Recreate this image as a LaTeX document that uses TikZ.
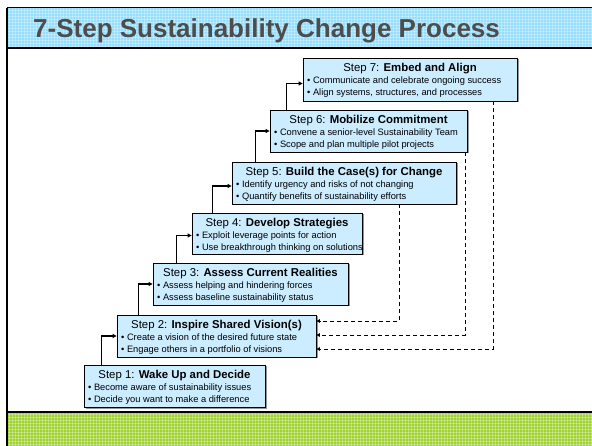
\documentclass[tikz,border=0pt]{standalone}
\usepackage{fontspec}
\setmainfont{Liberation Sans}
\usetikzlibrary{arrows.meta}
\definecolor{bannerc}{RGB}{150,222,252}
\definecolor{greenc}{RGB}{160,210,50}
\definecolor{boxc}{RGB}{204,236,255}
\definecolor{titlec}{RGB}{77,77,77}
\definecolor{shadowc}{RGB}{150,150,150}
\tikzset{
  boxst/.style={draw=black, line width=0.8pt, fill=boxc, inner sep=0pt},
  ttlst/.style={font=\fontsize{11.4}{13}\selectfont, inner sep=0pt, anchor=base},
  bulst/.style={font=\fontsize{9.3}{11}\selectfont, inner sep=0pt, anchor=base west},
  upline/.style={draw, line width=1.2pt, -{Triangle[length=4pt,width=4pt]}},
  backline/.style={draw, line width=0.9pt, dash pattern=on 4pt off 3pt, -{Triangle[length=3.5pt,width=3.5pt]}},
  gridln/.style={white, opacity=0.3, line width=0.5pt},
}
\newcommand\mkstep[9]{%
  \fill[shadowc] (#2+1.5,#3+1.5) rectangle (#4+1.5,#5+1.5);
  \node[boxst, minimum width={#4-#2}, minimum height={#5-#3}] (#1) at ({(#2+#4)/2},{(#3+#5)/2}) {};
  \node[ttlst] (#1t) at ({(#2+#4)/2},#3+13.5) {#6 \textbf{#7}};
  \node[bulst] (#1a) at (#2+4,#3+25.5) {\textbullet\ #8};
  \node[bulst] (#1b) at (#2+4,#3+37.5) {\textbullet\ #9};
}
\begin{document}
\begin{tikzpicture}[x=1pt,y=-1pt]
\useasboundingbox (0,0) rectangle (592,446);
\fill[white] (0,0) rectangle (592,446);
% banner
\fill[bannerc] (7,8) rectangle (592,48);
\foreach \i in {9,12,...,591} \draw[gridln] (\i,8) -- (\i,48);
\foreach \j in {10,13,...,47} \draw[gridln] (7,\j) -- (592,\j);
\draw[line width=1pt] (7,8) -- (592,8);
\draw[line width=1.2pt] (7,48) -- (592,48);
% green band
\fill[greenc] (7,412) rectangle (592,446);
\foreach \i in {9,12,...,591} \draw[gridln] (\i,412) -- (\i,446);
\foreach \j in {414,417,...,446} \draw[gridln] (7,\j) -- (592,\j);
\draw[line width=1.2pt] (7,412) -- (592,412);
% left edge
\draw[line width=2pt] (7,8) -- (7,446);
\node[anchor=base west, inner sep=0pt, font=\fontsize{26}{30}\selectfont\bfseries, text=titlec] (title) at (33,38) {7-Step Sustainability Change Process};
% steps
\mkstep{s7}{303}{58}{517}{101}{Step 7:}{Embed and Align}{Communicate and celebrate ongoing success}{Align systems, structures, and processes}
\mkstep{s6}{270}{110}{467}{152}{Step 6:}{Mobilize Commitment}{Convene a senior-level Sustainability Team}{Scope and plan multiple pilot projects}
\mkstep{s5}{232}{162}{456}{204}{Step 5:}{Build the Case(s) for Change}{Identify urgency and risks of not changing}{Quantify benefits of sustainability efforts}
\mkstep{s4}{192}{213}{362}{254}{Step 4:}{Develop Strategies}{Exploit leverage points for action}{Use breakthrough thinking on solutions}
\mkstep{s3}{153}{263}{348}{305}{Step 3:}{Assess Current Realities}{Assess helping and hindering forces}{Assess baseline sustainability status}
\mkstep{s2}{117}{315}{316}{357}{Step 2:}{Inspire Shared Vision(s)}{Create a vision of the desired future state}{Engage others in a portfolio of visions}
\mkstep{s1}{84}{365}{265}{407}{Step 1:}{Wake Up and Decide}{Become aware of sustainability issues}{Decide you want to make a difference}
% upward connectors
\draw[upline] ([xshift=18pt]s1.north west) |- (s2.west);
\draw[upline] ([xshift=22pt]s2.north west) |- (s3.west);
\draw[upline] ([xshift=24pt]s3.north west) |- ([yshift=-2pt]s4.west);
\draw[upline] ([xshift=21pt]s4.north west) |- ([yshift=-3pt]s5.west);
\draw[upline] ([xshift=24pt]s5.north west) |- (s6.west);
\draw[upline] ([xshift=17pt]s6.north west) |- ([yshift=-4pt]s7.west);
% feedback connectors
\draw[backline] ([xshift=168pt]s5.south west) |- ([yshift=15pt]s2.east);
\draw[backline] ([xshift=-2pt]s6.south east) |- ([yshift=1pt]s2.east);
\draw[backline] ([xshift=-24pt]s7.south east) |- ([yshift=-13pt]s2.east);
\end{tikzpicture}
\end{document}
